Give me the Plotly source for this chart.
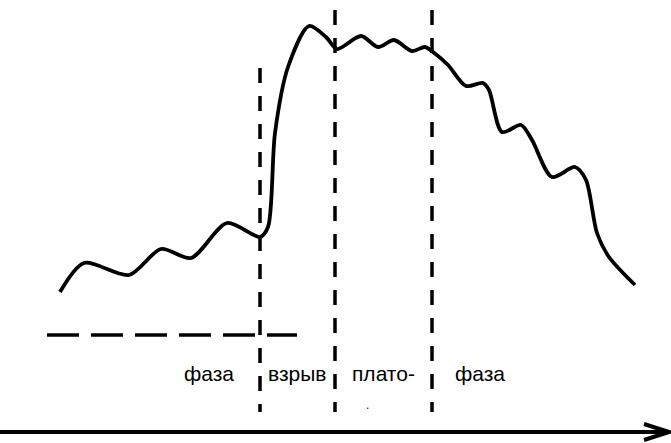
import plotly.graph_objects as go

# curve values (pixel-like units; y grows downward)
curve_x = [60, 84, 129, 161, 191, 227, 260, 268, 275, 288, 309, 326, 337, 361, 378, 394, 412, 425, 433,
           448, 466, 483, 489, 502, 521, 532, 552, 575, 586, 597, 609, 635]
curve_y = [292, 263, 275, 249, 258, 223, 237, 227, 133, 67, 26, 37, 49, 36, 47, 40, 51, 47, 52,
           65, 86, 83, 90, 132, 125, 140, 177, 167, 180, 233, 257, 285]

# phase boundaries
boundary_x = [260, 335, 432]
boundary_top = [68, 10, 10]
boundary_bottom = 412

# baseline dashed level
level_y = 335
level_x0, level_x1 = 47, 297

labels = ["фаза", "взрыв", "плато-", "фаза"]
label_x = [209, 297, 383, 480]
label_y = 373

fig = go.Figure()
fig.add_trace(go.Scatter(x=curve_x, y=curve_y, mode="lines",
                         line=dict(color="black", width=3.8, shape="spline", smoothing=0.8),
                         hoverinfo="skip", showlegend=False))

shapes = []
for bx, bt in zip(boundary_x, boundary_top):
    shapes.append(dict(type="line", x0=bx, x1=bx, y0=bt, y1=boundary_bottom,
                       line=dict(color="black", width=3.5, dash="15px,13px")))
shapes.append(dict(type="line", x0=level_x0, x1=level_x1, y0=level_y, y1=level_y,
                   line=dict(color="black", width=3.3, dash="32px,12px")))
# axis arrow
shapes.append(dict(type="line", x0=0, x1=668, y0=432, y1=432, line=dict(color="black", width=4)))
shapes.append(dict(type="path", path="M 644 424 L 669 432 L 644 440",
                   line=dict(color="black", width=4)))

annotations = []
for t, lx in zip(labels, label_x):
    annotations.append(dict(x=lx, y=label_y, text=t, showarrow=False,
                            font=dict(family="Liberation Sans, Arial", size=21, color="black")))
annotations.append(dict(x=367, y=405, text=".", showarrow=False,
                        font=dict(family="Liberation Sans, Arial", size=12, color="black")))

fig.update_layout(width=671, height=443, margin=dict(l=0, r=0, t=0, b=0),
                  paper_bgcolor="white", plot_bgcolor="white",
                  xaxis=dict(range=[0, 671], visible=False, fixedrange=True),
                  yaxis=dict(range=[443, 0], visible=False, fixedrange=True),
                  shapes=shapes, annotations=annotations)
fig.write_html("out.html", config={"displayModeBar": False},
               post_script="document.body.style.margin='0';")
